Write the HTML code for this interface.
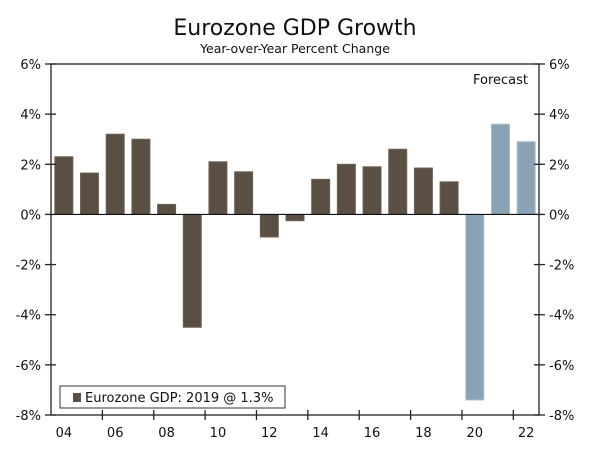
<!DOCTYPE html>
<html><head><meta charset="utf-8"><style>
body{margin:0;background:#fff;}
svg text{font-family:"DejaVu Sans","Liberation Sans",sans-serif;fill:#111;}
</style></head><body>
<svg id="chart" width="600" height="444" xmlns="http://www.w3.org/2000/svg">
<text x="295" y="35" text-anchor="middle" font-size="22">Eurozone GDP Growth</text>
<text x="295" y="53" text-anchor="middle" font-size="12.5">Year-over-Year Percent Change</text>
<g id="bars"></g>
<g id="axes"></g>
<text x="528" y="84" text-anchor="end" font-size="13">Forecast</text>
<g>
<rect x="60" y="386" width="225" height="22" fill="#fff" stroke="#333" stroke-width="1"/>
<rect x="73" y="393" width="8" height="9" fill="#5b4e42"/>
<text x="85" y="402" font-size="13">Eurozone GDP: 2019 @ 1.3%</text>
</g>
</svg>
<script>
const years=["04","05","06","07","08","09","10","11","12","13","14","15","16","17","18","19","20","21","22"];
const values=[2.3,1.65,3.2,3.0,0.4,-4.5,2.1,1.7,-0.9,-0.25,1.4,2.0,1.9,2.6,1.85,1.3,-7.4,3.6,2.9];
const forecast=[false,false,false,false,false,false,false,false,false,false,false,false,false,false,false,false,true,true,true];
const yTicks=[6,4,2,0,-2,-4,-6,-8];
const xLabels=["04","06","08","10","12","14","16","18","20","22"];
const NS="http://www.w3.org/2000/svg";
const L=51,R=539,T=64,B=415,ymin=-8,ymax=6;
const slot=(R-L)/years.length;
function y(v){return T+(ymax-v)/(ymax-ymin)*(B-T);}
function xc(i){return L+slot*(i+0.5);}
function mk(t,a,p){const e=document.createElementNS(NS,t);for(const k in a)e.setAttribute(k,a[k]);p.appendChild(e);return e;}
const bars=document.getElementById('bars'),ax=document.getElementById('axes');
values.forEach((v,i)=>{
 const r=mk('rect',{x:xc(i)-9,y:Math.min(y(v),y(0)),width:18,height:Math.abs(y(v)-y(0)),fill:forecast[i]?'#8aa3b4':'#5b4e42',stroke:forecast[i]?'#a9bccb':'#6e6255','stroke-width':1},bars);
 
 
});
const zl=mk('line',{x1:L,x2:R,y1:y(0),y2:y(0),stroke:'#111','stroke-width':1.2},ax);


const fr=mk('rect',{x:L,y:T,width:R-L,height:B-T,fill:'none',stroke:'#222','stroke-width':1.3},ax);


yTicks.forEach(v=>{
 mk('line',{x1:L-6,x2:L+5,y1:y(v),y2:y(v),stroke:'#222','stroke-width':1.3},ax);
 mk('line',{x1:R-5,x2:R+6,y1:y(v),y2:y(v),stroke:'#222','stroke-width':1.3},ax);
 const t1=mk('text',{x:L-10,y:y(v)+5,'text-anchor':'end','font-size':13},ax);t1.textContent=v+'%';
 
 
 const t2=mk('text',{x:R+10,y:y(v)+5,'font-size':13},ax);t2.textContent=v+'%';
 
 
});
for(let k=1;k<years.length;k++){ if(k%2===0) mk('line',{x1:L+slot*k,x2:L+slot*k,y1:B-5,y2:B+5,stroke:'#222','stroke-width':1.3},ax); }
xLabels.forEach(lb=>{
 const i=years.indexOf(lb);
 const t=mk('text',{x:xc(i),y:B+22,'text-anchor':'middle','font-size':13},ax);t.textContent=lb;
 
 
});
</script>
</body></html>
